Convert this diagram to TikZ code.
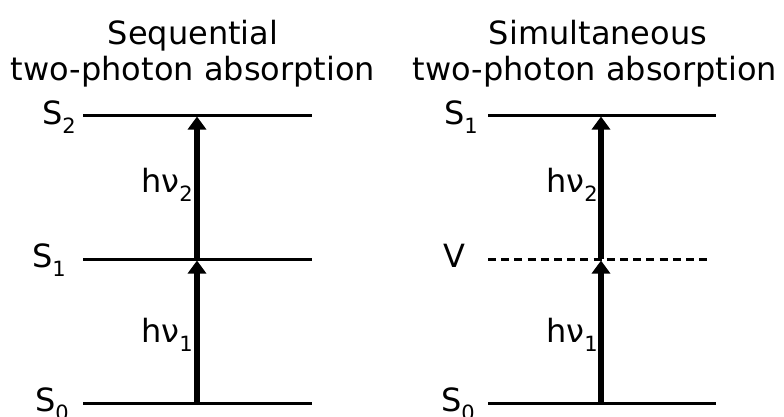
\documentclass[tikz,border=0pt]{standalone}
\usepackage{fontspec}
\setmainfont{DejaVu Sans}
\usepackage{tikz}
\usetikzlibrary{arrows.meta, positioning}
\newcommand{\lvsub}[1]{\raisebox{-0.31em}{\fontsize{21}{21}\selectfont #1}}

\begin{document}
\begin{tikzpicture}[x=1pt, y=-1pt,
    every node/.style={font=\fontsize{32}{38}\selectfont, inner sep=0pt},
    level/.style={line width=3pt},
    virtual/.style={line width=3pt, dash pattern=on 8pt off 5.2pt},
    photon/.style={line width=6pt, -{Triangle[width=18pt, length=13pt]}, shorten >=1.5pt}]
    \useasboundingbox (0,0) rectangle (784,416);
    % titles
    \node[anchor=base] (t1a) at (193,44) {Sequential};
    \node[anchor=base] (t1b) at (193,80) {two-photon absorption};
    \node[anchor=base] (t2a) at (598,44) {Simultaneous};
    \node[anchor=base] (t2b) at (595,80) {two-photon absorption};
    % sequential levels
    \coordinate (a0l) at (83,403);  \coordinate (a0r) at (312,403);
    \coordinate (a1l) at (83,259);  \coordinate (a1r) at (312,259);
    \coordinate (a2l) at (83,115);  \coordinate (a2r) at (312,115);
    \draw[level] (a0l) -- (a0r);
    \draw[level] (a1l) -- (a1r);
    \draw[level] (a2l) -- (a2r);
    \node[anchor=base east] (la0) at (69,411) {S\lvsub{0}};
    \node[anchor=base east] (la1) at (66,267) {S\lvsub{1}};
    \node[anchor=base east] (la2) at (76,124) {S\lvsub{2}};
    \coordinate (pa0) at (197,403);
    \coordinate (pa1) at (197,259);
    \coordinate (pa2) at (197,115);
    \draw[photon] (pa0) -- (pa1);
    \draw[photon] (pa1) -- (pa2);
    \node[anchor=base east] (ha1) at (193,342) {hν\lvsub{1}};
    \node[anchor=base east] (ha2) at (193,192) {hν\lvsub{2}};
    % simultaneous levels
    \coordinate (b0l) at (488,403); \coordinate (b0r) at (716,403);
    \coordinate (bvl) at (488,259); \coordinate (bvr) at (712,259);
    \coordinate (b1l) at (488,115); \coordinate (b1r) at (716,115);
    \draw[level] (b0l) -- (b0r);
    \draw[virtual] (bvl) -- (bvr);
    \draw[level] (b1l) -- (b1r);
    \node[anchor=base east] (lb0) at (475,411) {S\lvsub{0}};
    \node[anchor=base east] (lbv) at (466,267) {V};
    \node[anchor=base east] (lb1) at (478,124) {S\lvsub{1}};
    \coordinate (pb0) at (601,403);
    \coordinate (pbv) at (601,259);
    \coordinate (pb1) at (601,115);
    \draw[photon] (pb0) -- (pbv);
    \draw[photon] (pbv) -- (pb1);
    \node[anchor=base east] (hb1) at (598,342) {hν\lvsub{1}};
    \node[anchor=base east] (hb2) at (598,192) {hν\lvsub{2}};
\end{tikzpicture}
\end{document}
